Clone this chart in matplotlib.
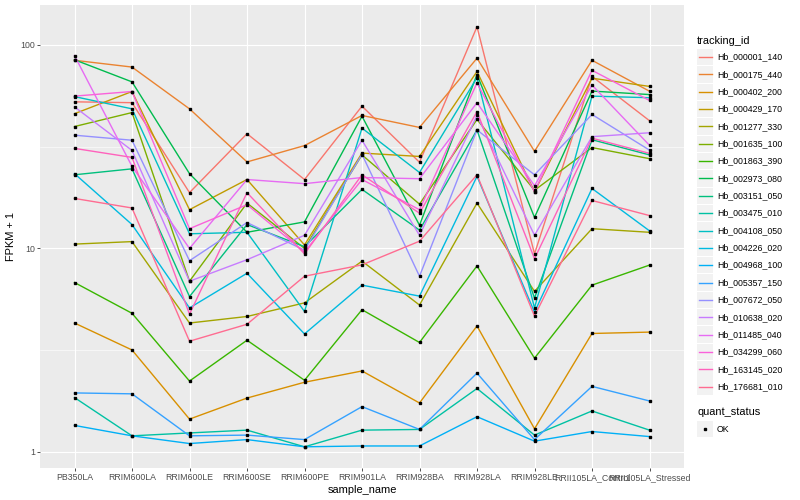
import matplotlib
matplotlib.use('Agg')
import matplotlib.pyplot as plt
from matplotlib.patches import Rectangle
import numpy as np

plt.rcParams['font.family'] = ['Liberation Sans', 'DejaVu Sans']

samples = ['PB350LA', 'RRIM600LA', 'RRIM600LE', 'RRIM600SE', 'RRIM600PE', 'RRIM901LA',
           'RRIM928BA', 'RRIM928LA', 'RRIM928LE', 'RRII105LA_Control', 'RRII105LA_Stressed']

genes = ['Hb_000001_140', 'Hb_000175_440', 'Hb_000402_200', 'Hb_000429_170', 'Hb_001277_330',
         'Hb_001635_100', 'Hb_001863_390', 'Hb_002973_080', 'Hb_003151_050', 'Hb_003475_010',
         'Hb_004108_050', 'Hb_004226_020', 'Hb_004968_100', 'Hb_005357_150', 'Hb_007672_050',
         'Hb_010638_020', 'Hb_011485_040', 'Hb_034299_060', 'Hb_163145_020', 'Hb_176681_010']

# ggplot hue palette, 20 levels
colors = ['#F8766D', '#EA8331', '#D89000', '#C09B00', '#A3A500', '#7CAE00', '#39B600', '#00BB4E',
          '#00BF7D', '#00C1A3', '#00BFC4', '#00BAE0', '#00B0F6', '#35A2FF', '#9590FF', '#C77CFF',
          '#E76BF3', '#FA62DB', '#FF62BC', '#FF6C91']

# FPKM + 1 for each gene, one value per sample
fpkm = [
    [52.5, 52.0, 18.8, 36.6, 21.8, 50.0, 26.5, 122.8, 9.4, 70.0, 42.4],
    [84.0, 77.8, 48.5, 26.6, 32.0, 45.0, 39.3, 86.0, 30.0, 84.0, 59.2],
    [4.3, 3.17, 1.45, 1.84, 2.2, 2.5, 1.74, 4.16, 1.30, 3.82, 3.88],
    [45.9, 59.0, 15.5, 21.8, 10.4, 29.4, 28.3, 74.0, 19.0, 68.6, 62.5],
    [10.5, 10.8, 4.3, 4.63, 5.4, 8.66, 5.27, 16.7, 6.15, 12.5, 12.0],
    [39.7, 46.5, 6.9, 16.7, 10.0, 28.8, 16.5, 43.0, 19.3, 31.3, 27.6],
    [6.8, 4.8, 2.23, 3.54, 2.25, 5.0, 3.45, 8.2, 2.89, 6.6, 8.28],
    [84.5, 65.8, 23.3, 12.0, 13.5, 44.6, 13.0, 71.5, 14.2, 59.3, 57.0],
    [23.0, 24.6, 5.8, 13.1, 10.2, 19.5, 12.3, 38.2, 5.7, 34.2, 28.8],
    [1.85, 1.2, 1.24, 1.28, 1.06, 1.28, 1.29, 2.05, 1.21, 1.59, 1.28],
    [55.7, 48.5, 11.8, 12.0, 4.9, 39.0, 23.6, 69.0, 5.1, 56.0, 55.0],
    [23.3, 13.1, 5.1, 7.55, 3.8, 6.6, 5.83, 22.6, 4.86, 19.7, 12.2],
    [1.35, 1.2, 1.1, 1.15, 1.06, 1.07, 1.07, 1.49, 1.13, 1.26, 1.19],
    [1.95, 1.93, 1.2, 1.21, 1.15, 1.67, 1.29, 2.44, 1.15, 2.1, 1.78],
    [36.0, 34.0, 8.7, 13.4, 9.8, 29.0, 7.3, 38.2, 23.0, 45.5, 30.4],
    [49.6, 30.3, 6.9, 8.8, 11.6, 34.0, 11.6, 45.0, 11.6, 35.4, 37.0],
    [88.6, 25.3, 10.0, 21.8, 20.8, 22.3, 22.0, 52.0, 20.3, 63.5, 32.1],
    [56.0, 59.0, 12.5, 16.4, 9.6, 21.8, 15.5, 65.0, 19.0, 75.0, 53.3],
    [31.0, 28.0, 4.75, 18.8, 9.4, 23.0, 14.9, 47.0, 8.9, 34.8, 29.3],
    [17.6, 15.8, 3.5, 4.24, 7.3, 8.3, 10.85, 23.0, 4.65, 17.2, 14.5],
]

W, H = 800, 500
fig = plt.figure(figsize=(8, 5), dpi=100)
ax = fig.add_axes([40 / W, 1 - 468 / H, 644 / W, 463 / H])
ax.set_facecolor('#EBEBEB')

x = np.arange(len(samples))
for vals, c in zip(fpkm, colors):
    ax.plot(x, vals, color=c, lw=1.0, zorder=2)
for vals in fpkm:
    ax.plot(x, vals, 's', color='black', ms=2.1, zorder=3)

ax.set_yscale('log')
ax.set_yticks([1, 10, 100])
ax.set_yticklabels(['1', '10', '100'])
ax.set_yticks([10 ** 0.5, 10 ** 1.5], minor=True)
ax.yaxis.set_minor_formatter(plt.NullFormatter())
ax.set_ylim(0.834, 157)
ax.set_xticks(x)
ax.set_xticklabels(samples)
ax.set_xlim(-0.6, len(samples) - 0.4)
ax.grid(which='major', color='white', lw=0.8)
ax.grid(which='minor', axis='y', color='white', lw=0.4)
ax.set_axisbelow(True)
for s in ax.spines.values():
    s.set_visible(False)
ax.tick_params(which='major', length=2.2, width=0.6, color='#333333', labelcolor='#4D4D4D',
               labelsize=6.3, pad=1.5)
ax.tick_params(which='minor', length=0)
ax.set_xlabel('sample_name', fontsize=7.9, labelpad=2)
ax.set_ylabel('FPKM + 1', fontsize=7.9, labelpad=3)


def fx(px):
    return px / W


def fy(py):
    return 1 - py / H


# legend: tracking_id
fig.text(fx(697), fy(40.5), 'tracking_id', fontsize=7.9, va='center', ha='left')
for i, (g, c) in enumerate(zip(genes, colors)):
    yc = 57 + i * 17.35
    fig.add_artist(Rectangle((fx(697), fy(yc + 8.2)), 16.4 / W, 16.4 / H, transform=fig.transFigure,
                             facecolor='#F2F2F2', edgecolor='none'))
    fig.add_artist(plt.Line2D([fx(699), fx(711.5)], [fy(yc), fy(yc)], transform=fig.transFigure,
                              color=c, lw=1.0))
    fig.text(fx(717), fy(yc), g, fontsize=6.3, va='center', ha='left')

# legend: quant_status
fig.text(fx(697), fy(412), 'quant_status', fontsize=7.9, va='center', ha='left')
fig.add_artist(Rectangle((fx(697), fy(429 + 8.2)), 16.4 / W, 16.4 / H, transform=fig.transFigure,
                         facecolor='#F2F2F2', edgecolor='none'))
fig.add_artist(plt.Line2D([fx(705.2)], [fy(429)], transform=fig.transFigure, marker='s',
                          color='black', ms=2.1, lw=0))
fig.text(fx(717), fy(429), 'OK', fontsize=6.3, va='center', ha='left')

fig.savefig('out.png', dpi=100)
